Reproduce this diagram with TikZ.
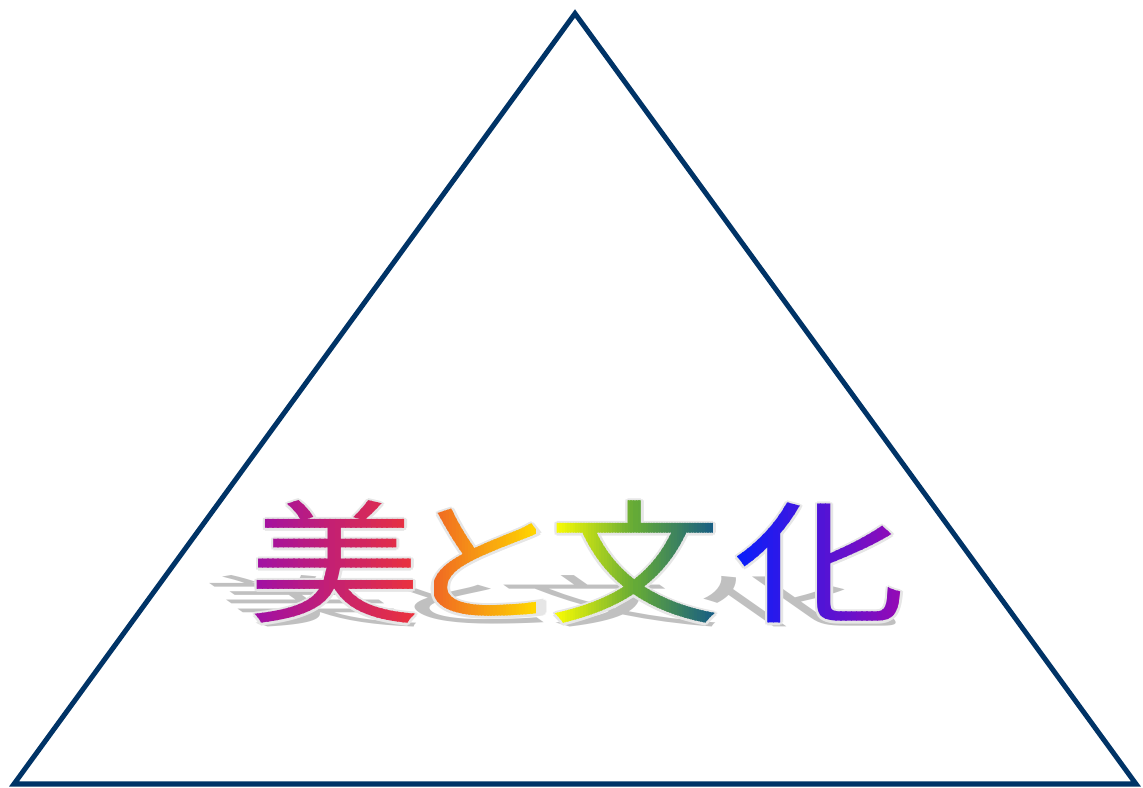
\documentclass[tikz,border=0pt]{standalone}
\usepackage{fontspec}
\newfontfamily\cjk{Noto Sans CJK JP}
\definecolor{navy}{RGB}{0,51,102}
\definecolor{miA}{RGB}{160,16,165}
\definecolor{miB}{RGB}{235,50,60}
\definecolor{toA}{RGB}{240,105,35}
\definecolor{toB}{RGB}{255,212,0}
\definecolor{buA}{RGB}{255,255,0}
\definecolor{buM}{RGB}{100,170,55}
\definecolor{buB}{RGB}{20,90,135}
\definecolor{kaA}{RGB}{10,30,250}
\definecolor{kaB}{RGB}{150,10,180}
\definecolor{rim}{RGB}{230,230,230}
\definecolor{shadowgray}{RGB}{192,192,192}
\newcommand\gchar[1]{\scalebox{1.3}[1]{#1}}
% #1 char, #2 centre x, #3 left, #4 right, #5 colour A, #6 colour B
\newcommand\gradchar[6]{%
  \foreach \i in {0,...,31}{%
    \pgfmathsetmacro\xa{#3+(#4-#3)*\i/32}%
    \pgfmathsetmacro\xb{\xa+(#4-#3)/32+0.6}%
    \pgfmathtruncatemacro\p{100*\i/31}%
    \begin{scope}
      \clip (\xa,0) rectangle (\xb,787);
      \node[glyph, text={#6!\p!#5}] at (#2,174) {\gchar{#1}};
    \end{scope}
  }}
\begin{document}
\begin{tikzpicture}[x=1pt,y=1pt,
  glyph/.style={anchor=base,inner sep=0pt,outer sep=0pt,font=\cjk\fontsize{133}{133}\selectfont},
  tri/.style={draw=navy,line width=5pt,line join=miter}]
\useasboundingbox (0,0) rectangle (1143,787);
\fill[white] (0,0) rectangle (1143,787);
% triangle
\coordinate (apex) at (575,773.5);
\coordinate (bl) at (14,3);
\coordinate (br) at (1136,3);
\draw[tri] (apex) -- (bl) -- (br) -- cycle;
% shadow
\begin{scope}[shift={(0,164)}, cm={1,0,-0.6,0.42,(0,0)}]
  \foreach \c/\x in {美/335,と/485,文/635,化/820}{
    \node[glyph, text=shadowgray, transform shape] at (\x,0) {\gchar{\c}};
  }
\end{scope}
% rim
\foreach \dx/\dy in {2.5/0,-2.5/0,0/2.5,0/-2.5,1.8/1.8,-1.8/1.8,1.8/-1.8,-1.8/-1.8}{
  \foreach \c/\x in {美/335,と/485,文/635,化/820}{
    \node[glyph, text=rim] at (\x+\dx,174+\dy) {\gchar{\c}};
  }
}
% gradient characters
\gradchar{美}{335}{252}{418}{miA}{miB}
\gradchar{と}{485}{434}{535}{toA}{toB}
\gradchar{文}{635}{552}{636}{buA}{buM}
\gradchar{文}{635}{636}{718}{buM}{buB}
\gradchar{化}{820}{737}{903}{kaA}{kaB}
\end{tikzpicture}
\end{document}
